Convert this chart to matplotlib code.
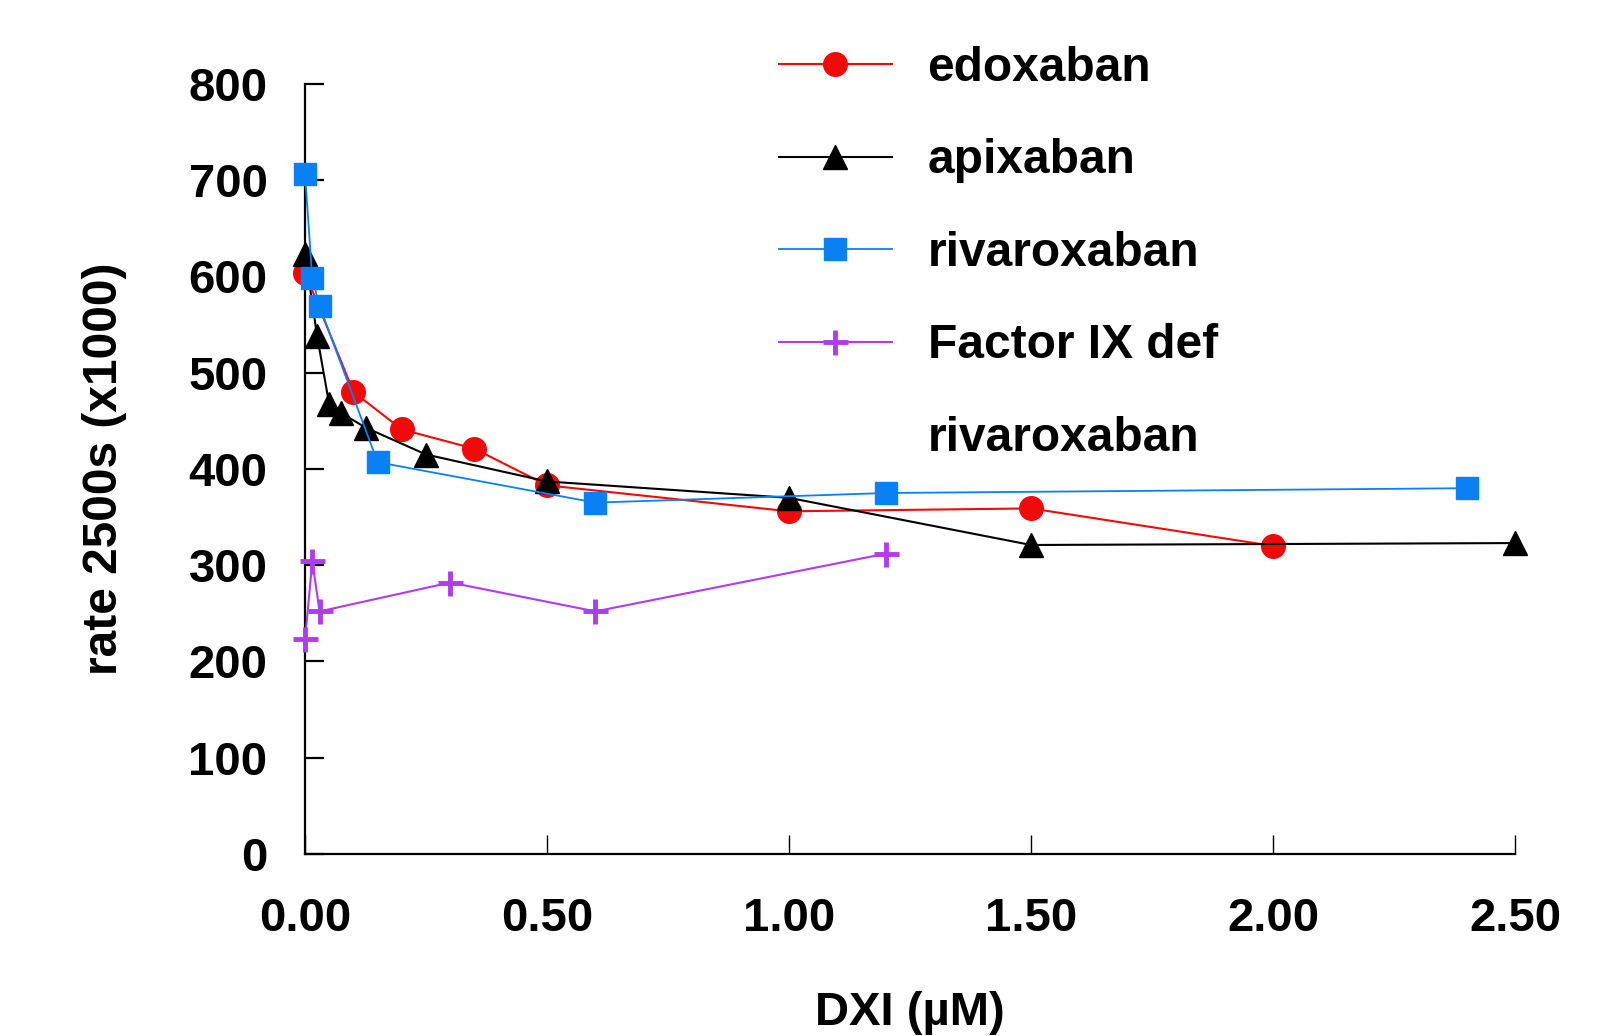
import matplotlib
matplotlib.use('Agg')
import matplotlib.pyplot as plt
from matplotlib.lines import Line2D

plt.rcParams['font.family'] = ['Liberation Sans', 'DejaVu Sans']
plt.rcParams['font.weight'] = 'bold'

# data
edox_x = [0.0, 0.10, 0.20, 0.35, 0.50, 1.00, 1.50, 2.00]
edox_y = [604, 480, 441, 421, 383, 356, 359, 320]

apix_x = [0.0, 0.025, 0.05, 0.075, 0.125, 0.25, 0.50, 1.00, 1.50, 2.50]
apix_y = [623, 538, 467, 458, 443, 415, 387, 370, 321, 323]

riva_x = [0.0, 0.015, 0.03, 0.15, 0.60, 1.20, 2.40]
riva_y = [706, 598, 569, 407, 365, 375, 380]

f9_x = [0.0, 0.015, 0.03, 0.30, 0.60, 1.20]
f9_y = [223, 304, 252, 282, 252, 312]

x_ticks = [0.0, 0.5, 1.0, 1.5, 2.0, 2.5]
x_ticklabels = ['0.00', '0.50', '1.00', '1.50', '2.00', '2.50']
y_ticks = list(range(0, 801, 100))

fig = plt.figure(figsize=(16.14, 10.36), dpi=100)
ax = fig.add_axes([0.189, 0.1757, 0.7497, 0.7433])

l1, = ax.plot(edox_x, edox_y, color='#f00a0a', linewidth=1.5, marker='o',
              markersize=17, clip_on=False, zorder=3)
l2, = ax.plot(apix_x, apix_y, color='black', linewidth=1.5, marker='^',
              markersize=17, clip_on=False, zorder=3)
l3, = ax.plot(riva_x, riva_y, color='#0a80f5', linewidth=1.3, marker='s',
              markersize=16, clip_on=False, zorder=4)
l4, = ax.plot(f9_x, f9_y, color='#b03cf0', linewidth=1.5, marker='+',
              markersize=18, markeredgewidth=3.5, clip_on=False, zorder=3)

ax.set_xlim(0, 2.5)
ax.set_ylim(0, 800)
ax.set_xticks(x_ticks)
ax.set_xticklabels(x_ticklabels)
ax.set_yticks(y_ticks)

for s in ['top', 'right']:
    ax.spines[s].set_visible(False)
for s in ['left', 'bottom']:
    ax.spines[s].set_linewidth(1.6)

ax.tick_params(axis='x', direction='in', length=14, width=1.0, pad=31, labelsize=34)
ax.tick_params(axis='y', direction='in', length=14, width=1.6, pad=27, labelsize=34)
for lab in ax.get_xticklabels() + ax.get_yticklabels():
    lab.set_fontweight('bold')

ax.set_xlabel('DXI (µM)', fontsize=34, fontweight='bold', labelpad=36)
ax.set_ylabel('rate 2500s (x1000)', fontsize=34.5, fontweight='bold', labelpad=44)

blank = Line2D([], [], linestyle='none', marker='none')
ax.legend([l1, l2, l3, l4, blank],
          ['edoxaban', 'apixaban', 'rivaroxaban', 'Factor IX def', 'rivaroxaban'],
          loc='upper left', bbox_to_anchor=(779 / 1614, 1 - 46 / 1036),
          bbox_transform=fig.transFigure, frameon=False, borderpad=0,
          borderaxespad=0, handlelength=2.35, handletextpad=0.75,
          labelspacing=0.99,
          prop={'family': 'Liberation Sans', 'weight': 'bold', 'size': 34.5})

fig.savefig('out.png', dpi=100)
